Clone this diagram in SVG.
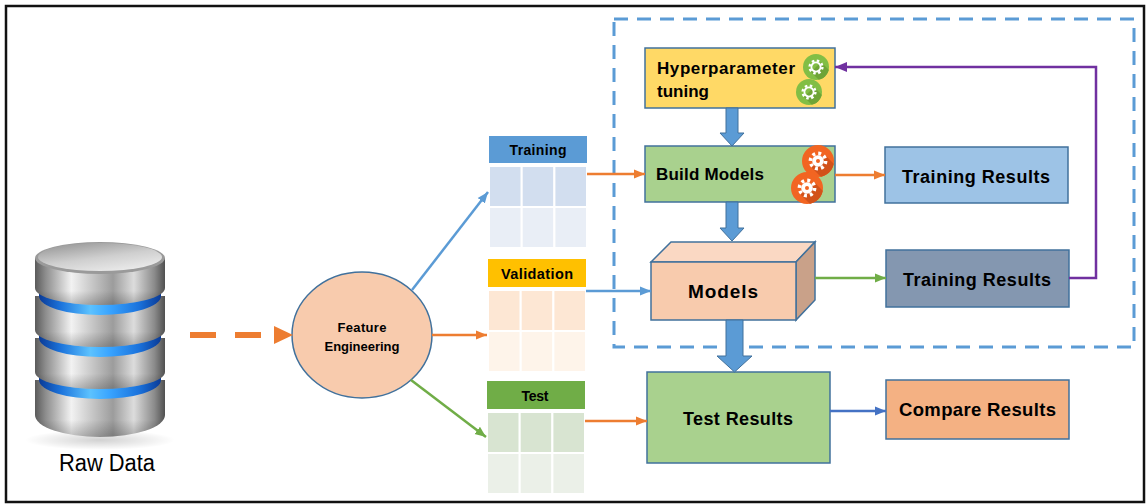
<svg xmlns="http://www.w3.org/2000/svg" width="1147" height="504" viewBox="0 0 1147 504">
  <style>
    .lbl { font-family: "Liberation Sans", Arial, sans-serif; font-weight: bold; fill: #000; }
    .box { stroke: #41719C; stroke-width: 1.5; }
    .conn { fill: none; stroke-width: 2.5; }
    .block { fill: #5B9BD5; stroke: #41719C; stroke-width: 1; }
    .cell { stroke: #fff; stroke-width: 2; }
  </style>
  <defs>
    <!-- metallic body of the storage cylinder -->
    <linearGradient id="metal" x1="0" y1="0" x2="1" y2="0">
      <stop offset="0" stop-color="#5a5a5a"/>
      <stop offset="0.08" stop-color="#8c8c8c"/>
      <stop offset="0.28" stop-color="#f2f2f2"/>
      <stop offset="0.45" stop-color="#c4c4c4"/>
      <stop offset="0.6" stop-color="#9c9c9c"/>
      <stop offset="0.76" stop-color="#dcdcdc"/>
      <stop offset="0.92" stop-color="#8a8a8a"/>
      <stop offset="1" stop-color="#505050"/>
    </linearGradient>
    <linearGradient id="metalShade" x1="0" y1="0" x2="0" y2="1">
      <stop offset="0" stop-color="#000" stop-opacity="0"/>
      <stop offset="0.7" stop-color="#000" stop-opacity="0"/>
      <stop offset="1" stop-color="#000" stop-opacity="0.22"/>
    </linearGradient>
    <linearGradient id="capTop" x1="0" y1="0" x2="0.6" y2="1">
      <stop offset="0" stop-color="#8f8f8f"/>
      <stop offset="0.6" stop-color="#cfcfcf"/>
      <stop offset="1" stop-color="#e8e8e8"/>
    </linearGradient>
    <linearGradient id="glow" x1="0" y1="0" x2="1" y2="0">
      <stop offset="0" stop-color="#0a3a96"/>
      <stop offset="0.18" stop-color="#1c74dc"/>
      <stop offset="0.42" stop-color="#5cc2ff"/>
      <stop offset="0.58" stop-color="#39a4ff"/>
      <stop offset="0.82" stop-color="#1a72dc"/>
      <stop offset="1" stop-color="#0a3a96"/>
    </linearGradient>
    <radialGradient id="floorShadow" cx="0.5" cy="0.5" r="0.5">
      <stop offset="0" stop-color="#000" stop-opacity="0.18"/>
      <stop offset="1" stop-color="#000" stop-opacity="0"/>
    </radialGradient>

    <marker id="ahOrange" markerWidth="11" markerHeight="10" refX="11" refY="5" orient="auto" markerUnits="userSpaceOnUse">
      <path d="M0,0.5 L11,5 L0,9.5 Z" fill="#ED7D31"/>
    </marker>
    <marker id="ahBlue" markerWidth="11" markerHeight="10" refX="11" refY="5" orient="auto" markerUnits="userSpaceOnUse">
      <path d="M0,0.5 L11,5 L0,9.5 Z" fill="#5B9BD5"/>
    </marker>
    <marker id="ahDarkBlue" markerWidth="11" markerHeight="10" refX="11" refY="5" orient="auto" markerUnits="userSpaceOnUse">
      <path d="M0,0.5 L11,5 L0,9.5 Z" fill="#4472C4"/>
    </marker>
    <marker id="ahGreen" markerWidth="11" markerHeight="10" refX="11" refY="5" orient="auto" markerUnits="userSpaceOnUse">
      <path d="M0,0.5 L11,5 L0,9.5 Z" fill="#70AD47"/>
    </marker>
    <marker id="ahPurple" markerWidth="12" markerHeight="11" refX="12" refY="5.5" orient="auto" markerUnits="userSpaceOnUse">
      <path d="M0,0.5 L12,5.5 L0,10.5 Z" fill="#7030A0"/>
    </marker>

    <clipPath id="clip13"><circle cx="0" cy="0" r="13"/></clipPath>
    <clipPath id="clip16"><circle cx="0" cy="0" r="16"/></clipPath>

    <!-- outlined gear on a green badge -->
    <g id="gearGreen">
      <circle r="13" fill="#82BE45"/>
      <g clip-path="url(#clip13)">
        <polygon points="5,-5 -5,5 25,35 35,25" fill="#6EA437"/>
      </g>
      <circle r="6.4" fill="none" stroke="#fff" stroke-width="2.4" stroke-dasharray="2.5 2.53"/>
      <circle r="4.6" fill="none" stroke="#fff" stroke-width="1.8"/>
    </g>
    <!-- solid gear on an orange badge -->
    <g id="gearOrange">
      <circle r="16" fill="#F26522"/>
      <g clip-path="url(#clip16)">
        <polygon points="6.5,-6.5 -6.5,6.5 30,43 43,30" fill="#D2521A"/>
      </g>
      <circle r="7.6" fill="none" stroke="#fff" stroke-width="3.6" stroke-dasharray="2.9 3.07"/>
      <circle r="5.8" fill="#fff"/>
      <circle r="2" fill="#F26522"/>
    </g>
  </defs>

  <rect width="1147" height="504" fill="#fff"/>
  <!-- outer frame -->
  <rect x="6" y="6" width="1138" height="496" fill="none" stroke="#111" stroke-width="2.5"/>

  <!-- dashed boundary of the model-building loop -->
  <rect x="614" y="19" width="520" height="328" fill="none" stroke="#5B9BD5" stroke-width="3" stroke-dasharray="14 9"/>

  <!-- storage cylinder -->
  <g id="raw-data">
    <ellipse cx="100" cy="440" rx="75" ry="10" fill="url(#floorShadow)"/>
    <path d="M35,380 L35,415 A65,22 0 0 0 165,415 L165,380 Z" fill="url(#metal)"/>
    <path d="M35,380 L35,415 A65,22 0 0 0 165,415 L165,380 Z" fill="url(#metalShade)"/>
    <path d="M39,368 L39,380 A61,19 0 0 0 161,380 L161,368 Z" fill="url(#glow)"/>
    <path d="M35,338 L35,372 A65,17 0 0 0 165,372 L165,338 Z" fill="url(#metal)"/>
    <path d="M35,338 L35,372 A65,17 0 0 0 165,372 L165,338 Z" fill="url(#metalShade)"/>
    <path d="M39,326 L39,338 A61,19 0 0 0 161,338 L161,326 Z" fill="url(#glow)"/>
    <path d="M35,296 L35,330 A65,17 0 0 0 165,330 L165,296 Z" fill="url(#metal)"/>
    <path d="M35,296 L35,330 A65,17 0 0 0 165,330 L165,296 Z" fill="url(#metalShade)"/>
    <path d="M39,284 L39,296 A61,19 0 0 0 161,296 L161,284 Z" fill="url(#glow)"/>
    <path d="M35,258 L35,288 A65,17 0 0 0 165,288 L165,258 Z" fill="url(#metal)"/>
    <path d="M35,258 L35,288 A65,17 0 0 0 165,288 L165,258 Z" fill="url(#metalShade)"/>
    <ellipse cx="100" cy="258" rx="65" ry="16" fill="#9a9a9a"/>
    <ellipse cx="100" cy="257" rx="62" ry="14" fill="url(#capTop)"/>
    <text x="107" y="471" text-anchor="middle" font-family="'Liberation Sans', Arial, sans-serif" font-size="23" textLength="96" lengthAdjust="spacingAndGlyphs" fill="#000">Raw Data</text>
  </g>

  <!-- feature engineering -->
  <g id="feature-engineering">
    <ellipse cx="362" cy="335" rx="70" ry="63" fill="#F8CBAD" stroke="#41719C" stroke-width="1.5"/>
    <text class="lbl" x="362" y="332" text-anchor="middle" font-size="13" textLength="49">Feature</text>
    <text class="lbl" x="362" y="351" text-anchor="middle" font-size="13" textLength="75">Engineering</text>
  </g>

  <!-- data splits -->
  <g id="training-set">
    <rect x="489" y="136" width="98" height="27" fill="#5B9BD5"/>
    <text class="lbl" x="538" y="155" text-anchor="middle" font-size="14" textLength="57">Training</text>
    <rect class="cell" x="489" y="166" width="32.7" height="41" fill="#D2DEEF"/>
    <rect class="cell" x="521.7" y="166" width="32.7" height="41" fill="#D2DEEF"/>
    <rect class="cell" x="554.4" y="166" width="32.6" height="41" fill="#D2DEEF"/>
    <rect class="cell" x="489" y="207" width="32.7" height="41" fill="#E9EEF6"/>
    <rect class="cell" x="521.7" y="207" width="32.7" height="41" fill="#E9EEF6"/>
    <rect class="cell" x="554.4" y="207" width="32.6" height="41" fill="#E9EEF6"/>
  </g>
  <g id="validation-set">
    <rect x="488" y="259" width="98" height="28" fill="#FFC000"/>
    <text class="lbl" x="537" y="279" text-anchor="middle" font-size="14.5" textLength="72">Validation</text>
    <rect class="cell" x="488" y="290" width="32.7" height="41" fill="#FDE7D4"/>
    <rect class="cell" x="520.7" y="290" width="32.7" height="41" fill="#FDE7D4"/>
    <rect class="cell" x="553.4" y="290" width="32.6" height="41" fill="#FDE7D4"/>
    <rect class="cell" x="488" y="331" width="32.7" height="41" fill="#FEF4EA"/>
    <rect class="cell" x="520.7" y="331" width="32.7" height="41" fill="#FEF4EA"/>
    <rect class="cell" x="553.4" y="331" width="32.6" height="41" fill="#FEF4EA"/>
  </g>
  <g id="test-set">
    <rect x="487" y="381" width="98" height="28" fill="#70AD47"/>
    <text class="lbl" x="535" y="401" text-anchor="middle" font-size="14" textLength="27">Test</text>
    <rect class="cell" x="487" y="412" width="32.7" height="41" fill="#D8E4D1"/>
    <rect class="cell" x="519.7" y="412" width="32.7" height="41" fill="#D8E4D1"/>
    <rect class="cell" x="552.4" y="412" width="32.6" height="41" fill="#D8E4D1"/>
    <rect class="cell" x="487" y="453" width="32.7" height="41" fill="#EBF0E8"/>
    <rect class="cell" x="519.7" y="453" width="32.7" height="41" fill="#EBF0E8"/>
    <rect class="cell" x="552.4" y="453" width="32.6" height="41" fill="#EBF0E8"/>
  </g>

  <!-- model building loop -->
  <g id="hyperparameter-tuning">
    <rect class="box" x="645" y="48" width="190" height="60" fill="#FFD966"/>
    <text class="lbl" x="657" y="74" font-size="17" textLength="138">Hyperparameter</text>
    <text class="lbl" x="657" y="97" font-size="17">tuning</text>
    <use href="#gearGreen" x="816" y="67"/>
    <use href="#gearGreen" x="809" y="92"/>
  </g>
  <g id="build-models">
    <rect class="box" x="645" y="146" width="190" height="56" fill="#A9D18E"/>
    <text class="lbl" x="656" y="180" font-size="17" textLength="108">Build Models</text>
    <use href="#gearOrange" x="818" y="161"/>
    <use href="#gearOrange" x="807" y="188"/>
  </g>
  <g id="training-results-build">
    <rect class="box" x="885" y="147" width="183" height="56" fill="#9DC3E6"/>
    <text class="lbl" x="976" y="183" text-anchor="middle" font-size="18" textLength="148">Training Results</text>
  </g>
  <g id="models">
    <polygon class="box" points="651,262 671,242 815,242 796,262" fill="#FAD8C3"/>
    <polygon class="box" points="796,262 815,242 815,300 796,320" fill="#C9A189"/>
    <rect class="box" x="651" y="262" width="145" height="58" fill="#F8CBAD"/>
    <text class="lbl" x="723" y="298" text-anchor="middle" font-size="19" textLength="70">Models</text>
  </g>
  <g id="training-results-models">
    <rect class="box" x="886" y="250" width="183" height="57" fill="#8497B0"/>
    <text class="lbl" x="977" y="286" text-anchor="middle" font-size="18" textLength="148">Training Results</text>
  </g>
  <g id="test-results">
    <rect class="box" x="647" y="372" width="183" height="91" fill="#A9D18E"/>
    <text class="lbl" x="738" y="425" text-anchor="middle" font-size="18" textLength="110">Test Results</text>
  </g>
  <g id="compare-results">
    <rect class="box" x="886" y="380" width="183" height="59" fill="#F4B183"/>
    <text class="lbl" x="977.5" y="416" text-anchor="middle" font-size="18.5" textLength="157">Compare Results</text>
  </g>

  <!-- connectors -->
  <g id="connectors">
    <line x1="190" y1="335" x2="261" y2="335" stroke="#ED7D31" stroke-width="6" stroke-dasharray="26 19"/>
    <polygon points="274,326 293,335 274,344" fill="#ED7D31"/>

    <line class="conn" x1="412" y1="290" x2="488" y2="192" stroke="#5B9BD5" marker-end="url(#ahBlue)"/>
    <line class="conn" x1="432" y1="335" x2="487" y2="335" stroke="#ED7D31" marker-end="url(#ahOrange)"/>
    <line class="conn" x1="411" y1="380" x2="486" y2="437" stroke="#70AD47" marker-end="url(#ahGreen)"/>

    <line class="conn" x1="587" y1="174" x2="645" y2="174" stroke="#ED7D31" marker-end="url(#ahOrange)"/>
    <line class="conn" x1="586" y1="291" x2="651" y2="291" stroke="#5B9BD5" marker-end="url(#ahBlue)"/>
    <line class="conn" x1="585" y1="421" x2="647" y2="421" stroke="#ED7D31" marker-end="url(#ahOrange)"/>

    <line class="conn" x1="835" y1="175" x2="885" y2="175" stroke="#ED7D31" marker-end="url(#ahOrange)"/>
    <line class="conn" x1="815" y1="278" x2="886" y2="278" stroke="#70AD47" marker-end="url(#ahGreen)"/>
    <line class="conn" x1="830" y1="411" x2="886" y2="411" stroke="#4472C4" marker-end="url(#ahDarkBlue)"/>

    <polyline class="conn" points="1069,278 1096,278 1096,67 835,67" stroke="#7030A0" stroke-width="3" marker-end="url(#ahPurple)"/>

    <polygon class="block" points="726,108 738,108 738,133 744,133 732,146 720,133 726,133"/>
    <polygon class="block" points="726,202 738,202 738,228 744,228 732,241 720,228 726,228"/>
    <polygon class="block" points="726,320 743,320 743,356 752,356 734.5,372 717,356 726,356"/>
  </g>
</svg>
